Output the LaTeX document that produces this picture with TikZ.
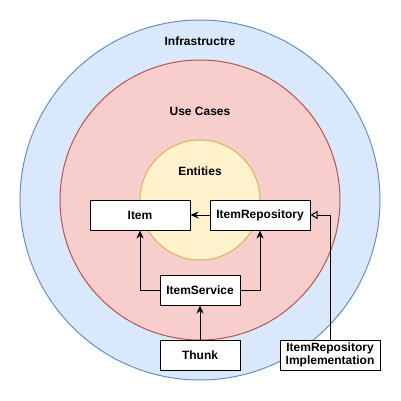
\documentclass[tikz,border=0pt]{standalone}
\usepackage{fontspec}
\setmainfont{Liberation Sans}
\usetikzlibrary{arrows.meta}
\definecolor{infraFill}{HTML}{DAE8FC}
\definecolor{infraLine}{HTML}{6C8EBF}
\definecolor{caseFill}{HTML}{F8CECC}
\definecolor{caseLine}{HTML}{B85450}
\definecolor{entFill}{HTML}{FFF2CC}
\definecolor{entLine}{HTML}{D6B656}
\tikzset{
  layer/.style={line width=1pt},
  title/.style={font=\fontsize{12}{14}\selectfont\bfseries},
  box/.style={draw=black, fill=white, line width=1pt, align=center, inner sep=0pt,
    minimum height=30pt, font=\fontsize{12}{13.5}\selectfont\bfseries},
  wide/.style={box, minimum width=100pt},
  narrow/.style={box, minimum width=80pt},
  uses/.style={line width=1pt, -{Stealth[length=8pt, width=7pt, inset=2.5pt]}},
  realizes/.style={line width=1pt, -{Triangle[open, length=7pt, width=8pt]}},
}
\begin{document}
\begin{tikzpicture}[x=1pt, y=-1pt]
  \useasboundingbox (0,0) rectangle (401,401);

  % concentric layers
  \draw[layer, fill=infraFill, draw=infraLine] (200,200) circle[radius=180];
  \draw[layer, fill=caseFill, draw=caseLine] (200,200) circle[radius=140];
  \draw[layer, fill=entFill, draw=entLine] (200,200) circle[radius=60];

  \node[title] (infra) at (200,41) {Infrastructre};
  \node[title] (cases) at (200,111) {Use Cases};
  \node[title] (ents) at (200,171) {Entities};

  % components
  \node[wide] (item) at (140,215) {Item};
  \node[wide] (repo) at (260,215) {ItemRepository};
  \node[narrow] (svc) at (200,290) {ItemService};
  \node[narrow] (thunk) at (200,355) {Thunk};
  \node[wide] (impl) at (330,355) {ItemRepository\\Implementation};

  % dependencies
  \draw[uses] (repo.west) -- (item.east);
  \draw[uses] (svc.west) -| (item.south);
  \draw[uses] (svc.east) -| (repo.south);
  \draw[uses] (thunk.north) -- (svc.south);
  \draw[realizes] (impl.north) |- (repo.east);
\end{tikzpicture}
\end{document}
